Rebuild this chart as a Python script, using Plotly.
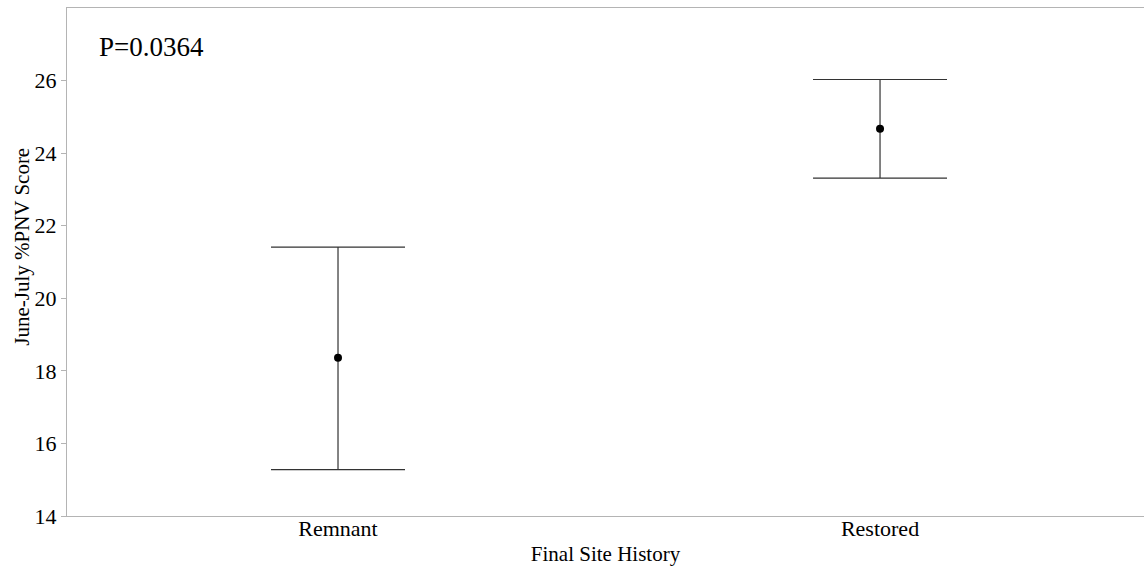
import plotly.graph_objects as go

# Mean %PNV score per site history with asymmetric interval bounds
categories = ["Remnant", "Restored"]
means = [18.36, 24.67]
upper = [21.41, 26.03]
lower = [15.28, 23.31]
y_ticks = [14, 16, 18, 20, 22, 24, 26]
p_label = "P=0.0364"
x_title = "Final Site History"
y_title = "June-July %PNV Score"

x_pos = list(range(len(categories)))
err_plus = [u - m for u, m in zip(upper, means)]
err_minus = [m - l for m, l in zip(means, lower)]

font_family = "Liberation Serif, Times New Roman, serif"
axis_grey = "#b4b4b4"

fig = go.Figure()
fig.add_trace(go.Scatter(
    x=x_pos,
    y=means,
    mode="markers",
    marker=dict(color="black", size=8),
    error_y=dict(
        type="data",
        symmetric=False,
        array=err_plus,
        arrayminus=err_minus,
        color="#333333",
        thickness=1.2,
        width=67,
    ),
    showlegend=False,
))

fig.add_annotation(
    text=p_label,
    xref="paper", yref="paper",
    x=0.028, y=0.923,
    xanchor="left", yanchor="middle",
    showarrow=False,
    font=dict(family=font_family, size=27, color="black"),
)

# y-axis title placed as a rotated label
fig.add_annotation(
    text=y_title,
    xref="paper", yref="paper",
    x=-0.0418, y=0.53,
    xanchor="center", yanchor="middle",
    textangle=-90,
    showarrow=False,
    font=dict(family=font_family, size=21, color="black"),
)

fig.update_layout(
    width=1144,
    height=569,
    margin=dict(l=67, r=0, t=8, b=53),
    paper_bgcolor="white",
    plot_bgcolor="white",
    font=dict(family=font_family, color="black"),
    xaxis=dict(
        range=[-0.5, 1.487],
        tickvals=x_pos,
        ticktext=categories,
        showgrid=False,
        zeroline=False,
        showline=True,
        linecolor=axis_grey,
        linewidth=1,
        mirror=True,
        ticks="",
        ticklabelstandoff=-7,
        tickfont=dict(size=22, family=font_family, color="black"),
        title=dict(text=x_title, font=dict(size=21, family=font_family), standoff=5),
    ),
    yaxis=dict(
        range=[14, 28],
        tickvals=y_ticks,
        showgrid=False,
        zeroline=False,
        showline=True,
        linecolor=axis_grey,
        linewidth=1,
        ticks="outside",
        ticklen=5,
        tickcolor=axis_grey,
        tickfont=dict(size=22, family=font_family, color="black"),
    ),
)

fig.write_html("out.html")
